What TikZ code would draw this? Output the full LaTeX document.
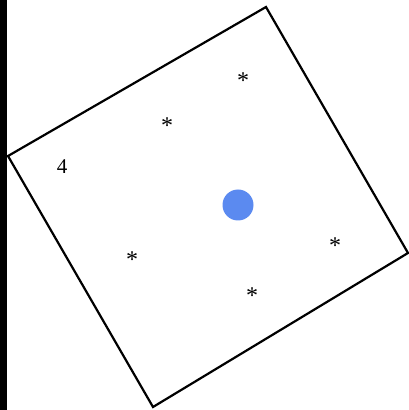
\documentclass[tikz,border=0pt]{standalone}
\usepackage{fontspec}
\setmainfont{Liberation Serif}
\definecolor{dotblue}{RGB}{91,138,240}
\tikzset{
  star/.style={inner sep=0pt, font=\fontsize{24}{28}\selectfont},
  lbl/.style={inner sep=0pt, font=\fontsize{21}{25}\selectfont},
  frame/.style={draw=black, line width=2.2pt, line join=miter}
}
\begin{document}
\begin{tikzpicture}[x=1pt,y=1pt]
\useasboundingbox (0,0) rectangle (409,410);
\fill[black] (0,0) rectangle (7,410);
\coordinate (t) at (266,403);
\coordinate (r) at (408,157);
\coordinate (b) at (153,3);
\coordinate (l) at (8,254);
\draw[frame] (t) -- (r) -- (b) -- (l) -- cycle;
\node[lbl] (n4) at (62,243) {4};
\node[star] (s1) at (243,329) {*};
\node[star] (s2) at (167,284) {*};
\node[star] (s3) at (132,150) {*};
\node[star] (s4) at (252,114) {*};
\node[star] (s5) at (335,164) {*};
\node[circle, fill=dotblue, minimum size=31pt, inner sep=0pt] (dot) at (238,205) {};
\end{tikzpicture}
\end{document}
